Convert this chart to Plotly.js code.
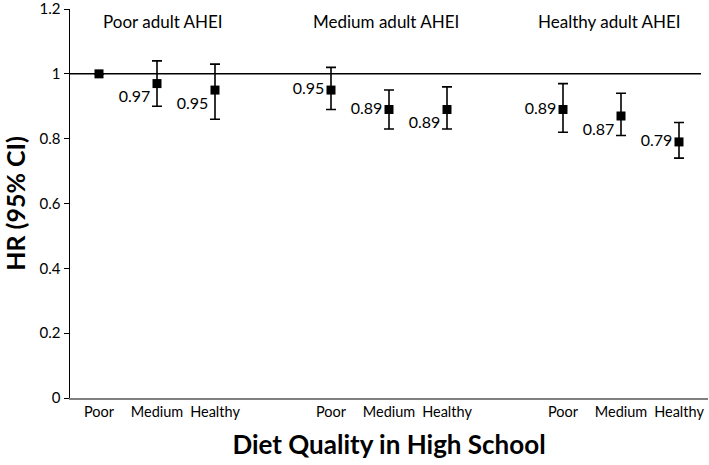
<!DOCTYPE html>
<html>
<head>
<meta charset="utf-8">
<script src="https://cdn.plot.ly/plotly-3.0.1.min.js"></script>
<style>html,body{margin:0;padding:0;background:#fff;}#chart{width:709px;height:465px;}</style>
</head>
<body>
<div id="chart"></div>
<script>
// Data
const slots = [0, 1, 2, 4, 5, 6, 8, 9, 10];
const highSchoolLabels = ["Poor", "Medium", "Healthy", "Poor", "Medium", "Healthy", "Poor", "Medium", "Healthy"];
const hr = [1.00, 0.97, 0.95, 0.95, 0.89, 0.89, 0.89, 0.87, 0.79];
const ciLow = [1.00, 0.90, 0.86, 0.89, 0.83, 0.83, 0.82, 0.81, 0.74];
const ciHigh = [1.00, 1.04, 1.03, 1.02, 0.95, 0.96, 0.97, 0.94, 0.85];
const valueLabels = ["", "0.97", "0.95", "0.95", "0.89", "0.89", "0.89", "0.87", "0.79"];
const yTicks = [0, 0.2, 0.4, 0.6, 0.8, 1, 1.2];
const yTickText = ["0", "0.2", "0.4", "0.6", "0.8", "1", "1.2"];
const groupNames = ["Poor adult AHEI", "Medium adult AHEI", "Healthy adult AHEI"];
const groupCenters = [1.1, 4.95, 8.8];

// Styles
const labelPos = ["middle left", "bottom left", "bottom left", "middle left", "middle left", "bottom left", "middle left", "bottom left", "middle left"];
const FONT = "Lato, 'Open Sans', sans-serif";

const trace = {
  type: "scatter",
  mode: "markers+text",
  x: slots,
  y: hr,
  text: valueLabels,
  textposition: labelPos,
  textfont: {family: FONT, size: 16, color: "#000"},
  marker: {symbol: "square", size: 9, color: "#000"},
  error_y: {
    type: "data",
    symmetric: false,
    array: hr.map((v, i) => ciHigh[i] - v),
    arrayminus: hr.map((v, i) => v - ciLow[i]),
    color: "#000",
    thickness: 1.6,
    width: 5
  },
  cliponaxis: false,
  hoverinfo: "skip",
  showlegend: false
};

const annotations = groupNames.map((g, i) => ({
  x: groupCenters[i], y: 1.2, xref: "x", yref: "y",
  text: g, showarrow: false, yanchor: "top", yshift: 0,
  font: {family: FONT, size: 17, color: "#000"}
}));

const layout = {
  width: 709, height: 465,
  margin: {l: 70, r: 1, t: 9, b: 67},
  paper_bgcolor: "#fff", plot_bgcolor: "#fff",
  font: {family: FONT, color: "#000"},
  xaxis: {
    range: [-0.5, 10.5],
    tickmode: "array", tickvals: slots, ticktext: highSchoolLabels,
    showgrid: false, zeroline: false,
    showline: true, linecolor: "#808080", linewidth: 2,
    ticks: "", tickfont: {family: FONT, size: 14.5, color: "#000"},
    title: {text: "<b>Diet Quality in High School</b>", font: {family: FONT, size: 26, color: "#000"}, standoff: 16}
  },
  yaxis: {
    range: [0, 1.2001],
    tickmode: "array", tickvals: yTicks, ticktext: yTickText,
    ticklabeloverflow: "allow",
    showgrid: false, zeroline: false,
    showline: true, linecolor: "#000", linewidth: 1.5,
    ticks: "outside", ticklen: 5, tickcolor: "#000",
    tickfont: {family: FONT, size: 15, color: "#000"},
    title: {text: "<b>HR (95% CI)</b>", font: {family: FONT, size: 25, color: "#000"}, standoff: 8}
  },
  shapes: [{
    type: "line", xref: "x", yref: "y",
    x0: -0.5, x1: 10.38, y0: 1, y1: 1,
    line: {color: "#000", width: 1.5}
  }],
  annotations: annotations
};

Plotly.newPlot("chart", [trace], layout, {staticPlot: true, displayModeBar: false});
</script>
</body>
</html>
